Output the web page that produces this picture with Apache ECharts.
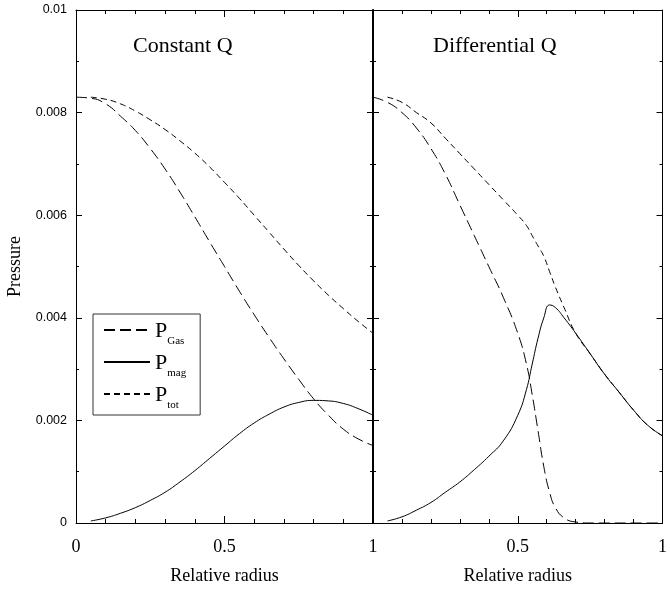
<!DOCTYPE html>
<html>
<head>
<meta charset="utf-8">
<script src="https://cdn.jsdelivr.net/npm/echarts@6/dist/echarts.min.js"></script>
<style>
  html, body { margin: 0; padding: 0; background: #fff; }
  #chart { width: 670px; height: 590px; }
</style>
</head>
<body>
<div id="chart"></div>
<script>
// Radial pressure profiles: constant Q (left) and differential Q (right)
const radiusL = [0, 0.05, 0.1, 0.15, 0.2, 0.25, 0.3, 0.35, 0.4, 0.45, 0.5, 0.55, 0.6, 0.65, 0.7, 0.75, 0.8, 0.85, 0.9, 0.95, 1];
const gasL = [0.0083, 0.00828, 0.00817, 0.00793, 0.00765, 0.0073, 0.0069, 0.00645, 0.00597, 0.00548, 0.005, 0.00452, 0.00406, 0.00362, 0.0032, 0.0028, 0.00242, 0.0021, 0.00183, 0.00164, 0.00151];
const magL = [null, 0.00004, 0.0001, 0.00019, 0.0003, 0.00044, 0.0006, 0.0008, 0.00102, 0.00126, 0.0015, 0.00174, 0.00195, 0.00212, 0.00226, 0.00235, 0.00239, 0.00238, 0.00233, 0.00223, 0.0021];
const totL = [null, 0.0083, 0.00826, 0.00817, 0.00803, 0.00786, 0.00767, 0.00745, 0.00721, 0.00694, 0.00664, 0.00633, 0.006, 0.00567, 0.00534, 0.00502, 0.00472, 0.00444, 0.00418, 0.00393, 0.0037];

const radiusR = [0, 0.05, 0.1, 0.15, 0.2, 0.25, 0.3, 0.35, 0.4, 0.45, 0.5, 0.53, 0.55, 0.57, 0.59, 0.61, 0.63, 0.66, 0.7, 0.75, 0.8, 0.85, 0.9, 0.95, 1];
const gasR = [0.0083, 0.0082, 0.008, 0.0077, 0.0073, 0.0068, 0.0062, 0.0056, 0.005, 0.0044, 0.0037, 0.0031, 0.0025, 0.0018, 0.0011, 0.0006, 0.0003, 0.0001, 0.00002, 0, 0, 0, 0, 0, 0];
const magR = [null, 0.00004, 0.00012, 0.00025, 0.0004, 0.0006, 0.0008, 0.00104, 0.0013, 0.0016, 0.0021, 0.0026, 0.0031, 0.0036, 0.004, 0.00425, 0.0042, 0.004, 0.0037, 0.0033, 0.0029, 0.00255, 0.0022, 0.0019, 0.0017];
const totR = [null, 0.0083, 0.0082, 0.008, 0.0078, 0.0075, 0.0072, 0.0069, 0.0066, 0.0063, 0.006, 0.0058, 0.0056, 0.0054, 0.0052, 0.0049, 0.0046, 0.0042, 0.0037, 0.0033, 0.0029, 0.00255, 0.0022, 0.0019, 0.0017];

const xTicks = { interval: 0.5, minorSplit: 5 };
const yTicks = { interval: 0.002, minorSplit: 2 };
const panelTitles = ['Constant Q', 'Differential Q'];
const seriesNames = ['P_Gas', 'P_mag', 'P_tot'];
const subscripts = { P_Gas: 'Gas', P_mag: 'mag', P_tot: 'tot' };

const SERIF = '"Liberation Serif", "Times New Roman", serif';
const SANS = '"Liberation Sans", Arial, sans-serif';
const INK = '#000';

function pairs(xs, ys) {
  const out = [];
  xs.forEach((x, i) => { if (ys[i] !== null) out.push([x, ys[i]]); });
  return out;
}

function xAxisFor(gridIndex, position, withLabels, hideZero) {
  return {
    type: 'value', gridIndex, position, min: 0, max: 1, interval: xTicks.interval,
    axisLine: { show: true, onZero: false, lineStyle: { color: INK, width: 1 } },
    axisTick: { show: true, inside: true, length: 7, lineStyle: { color: INK } },
    minorTick: { show: true, splitNumber: xTicks.minorSplit, length: 4, lineStyle: { color: INK } },
    splitLine: { show: false },
    axisLabel: {
      show: withLabels, margin: 15, color: INK, fontFamily: SERIF, fontSize: 18,
      formatter: v => (hideZero && v === 0) ? '' : String(v)
    },
    name: withLabels ? 'Relative radius' : '',
    nameLocation: 'middle', nameGap: 44,
    nameTextStyle: { color: INK, fontFamily: SERIF, fontSize: 18 }
  };
}

function yAxisFor(gridIndex, position, withLabels, lineWidth) {
  return {
    type: 'value', gridIndex, position, min: 0, max: 0.01, interval: yTicks.interval,
    axisLine: { show: true, onZero: false, lineStyle: { color: INK, width: lineWidth || 1 } },
    axisTick: { show: true, inside: true, length: 6, lineStyle: { color: INK } },
    minorTick: { show: true, splitNumber: yTicks.minorSplit, length: 3, lineStyle: { color: INK } },
    splitLine: { show: false },
    axisLabel: { show: withLabels, margin: 9, color: INK, fontFamily: SANS, fontSize: 12.5 },
    name: withLabels ? 'Pressure' : '',
    nameLocation: 'middle', nameGap: 52,
    nameTextStyle: { color: INK, fontFamily: SERIF, fontSize: 18 }
  };
}

const styles = {
  P_Gas: { type: [11, 5], width: 1 },
  P_mag: { type: 'solid', width: 1 },
  P_tot: { type: [6, 4], width: 1 }
};

function lineSeries(name, xIdx, yIdx, data) {
  return {
    name, type: 'line', xAxisIndex: xIdx, yAxisIndex: yIdx, data,
    symbol: 'none', smooth: true, silent: true,
    lineStyle: Object.assign({ color: INK }, styles[name]),
    itemStyle: { color: INK }
  };
}

const chart = echarts.init(document.getElementById('chart'), null, { renderer: 'canvas' });
chart.setOption({
  backgroundColor: '#fff',
  animation: false,
  grid: [
    { left: 76, top: 10, width: 297, height: 522 },
    { left: 373, top: 10, width: 296, height: 522 }
  ],
  xAxis: [
    xAxisFor(0, 'bottom', true, false),
    xAxisFor(0, 'top', false, false),
    xAxisFor(1, 'bottom', true, true),
    xAxisFor(1, 'top', false, false)
  ],
  yAxis: [
    yAxisFor(0, 'left', true),
    yAxisFor(0, 'right', false),
    yAxisFor(1, 'left', false, 2),
    yAxisFor(1, 'right', false)
  ],
  legend: {
    data: seriesNames,
    orient: 'vertical', left: 93, top: 314,
    padding: [6, 14, 4, 10], itemGap: 5,
    itemWidth: 46, itemHeight: 22,
    borderColor: '#333', borderWidth: 1,
    selectedMode: false,
    itemStyle: { opacity: 0 },
    formatter: n => '{p|P}{s|' + subscripts[n] + '}',
    textStyle: {
      color: INK,
      rich: {
        p: { fontFamily: SERIF, fontSize: 22, color: INK, verticalAlign: 'bottom', lineHeight: 24 },
        s: { fontFamily: SERIF, fontSize: 11, color: INK, verticalAlign: 'bottom', padding: [0, 0, -5, 0], lineHeight: 14 }
      }
    }
  },
  graphic: [
    { type: 'text', left: 133, top: 35, style: { text: panelTitles[0], font: '22px ' + SERIF, fill: INK } },
    { type: 'text', left: 433, top: 35, style: { text: panelTitles[1], font: '22px ' + SERIF, fill: INK } }
  ],
  series: [
    lineSeries('P_Gas', 0, 0, pairs(radiusL, gasL)),
    lineSeries('P_mag', 0, 0, pairs(radiusL, magL)),
    lineSeries('P_tot', 0, 0, pairs(radiusL, totL)),
    lineSeries('P_Gas', 2, 2, pairs(radiusR, gasR)),
    lineSeries('P_mag', 2, 2, pairs(radiusR, magR)),
    lineSeries('P_tot', 2, 2, pairs(radiusR, totR))
  ]
});
</script>
</body>
</html>
